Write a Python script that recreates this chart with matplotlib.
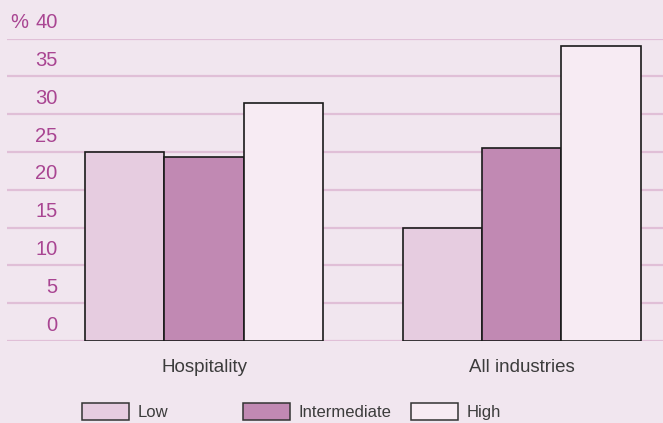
import matplotlib.pyplot as plt
from matplotlib.patches import Rectangle

# skill-level shares by industry group
groups = ['Hospitality', 'All industries']
levels = ['Low', 'Intermediate', 'High']
low = [25.0, 15.0]
intermediate = [24.3, 25.5]
high = [31.5, 39.0]
yticks = [0, 5, 10, 15, 20, 25, 30, 35, 40]

bg = '#f1e6ef'
fills = ['#e6cce0', '#c189b3', '#f7ebf3']
grid_col = '#e0bfd7'
tick_col = '#a94592'
text_col = '#3c3c3c'

plt.rcParams['font.family'] = ['Liberation Sans', 'DejaVu Sans']

W, H = 663, 423
fig = plt.figure(figsize=(W / 100, H / 100), dpi=100, facecolor=bg)
ax = fig.add_axes([7 / W, (H - 341) / H, (W - 7) / W, (341 - 38.7) / H])
ax.set_facecolor(bg)
ax.set_xlim(-0.621, 1.445)
ax.set_ylim(0, 40)
for s in ax.spines.values():
    s.set_visible(False)
ax.set_xticks([])
ax.set_yticks([])

for t in yticks:
    ax.axhline(t, color=grid_col, lw=1.6, zorder=0)
    ax.text(-0.462, t + 2.1, str(t), ha='right', va='center',
            fontsize=14.5, color=tick_col)
ax.text(-0.612, 40 + 2.1, '%', ha='left', va='center',
        fontsize=14.5, color=tick_col)

w = 0.25
for i, vals in enumerate([low, intermediate, high]):
    xs = [g + (i - 1) * w for g in range(len(groups))]
    ax.bar(xs, vals, width=w, color=fills[i], edgecolor='#1a1a1a',
           linewidth=1.2, zorder=2)

for g, name in enumerate(groups):
    ax.text(g, -3.5, name, ha='center', va='center', fontsize=13.5,
            color=text_col, clip_on=False)

# legend keys laid out by hand
key_x = [82, 243, 411]
for x0, lab, fc in zip(key_x, levels, fills):
    fig.patches.append(Rectangle((x0 / W, (H - 420) / H), 47 / W, 17 / H,
                                 transform=fig.transFigure, facecolor=fc,
                                 edgecolor='#333333', linewidth=1.1))
    fig.text((x0 + 56) / W, (H - 412) / H, lab, ha='left', va='center',
             fontsize=12, color=text_col)

fig.savefig('out.png', dpi=100, facecolor=bg)
